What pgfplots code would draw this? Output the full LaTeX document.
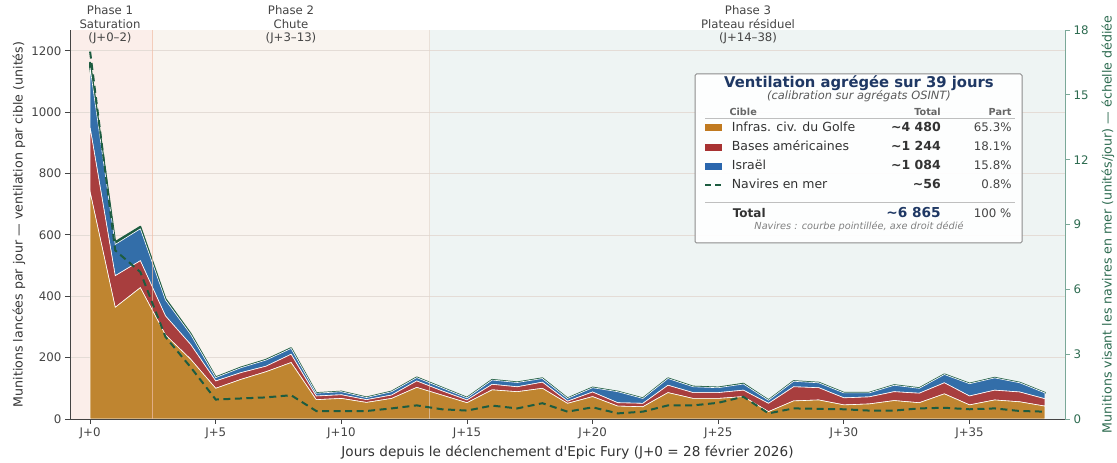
\documentclass[border=0pt]{standalone}
\usepackage{fontspec}
\setmainfont{DejaVu Sans}
\usepackage{pgfplots}
\pgfplotsset{compat=1.18}
\definecolor{cgulf}{HTML}{BF8530}
\definecolor{cbase}{HTML}{A83E3E}
\definecolor{cisr}{HTML}{336EA9}
\definecolor{cship}{HTML}{1D5C40}
\definecolor{sgulf}{HTML}{C17A20}
\definecolor{sbase}{HTML}{A83232}
\definecolor{sisr}{HTML}{2A66AD}
\definecolor{ph1}{HTML}{FBEEEA}
\definecolor{ph2}{HTML}{F9F4EF}
\definecolor{ph3}{HTML}{EEF4F3}
\definecolor{navy}{HTML}{1F3864}
\definecolor{txt}{HTML}{444444}
\definecolor{txt2}{HTML}{333333}
\definecolor{axc}{HTML}{444444}
\definecolor{rgreen}{HTML}{2D6B50}
\definecolor{rline}{HTML}{7AA898}
\definecolor{gridc}{HTML}{E4DCD6}
\definecolor{vl1}{HTML}{F0BFA8}
\definecolor{vl2}{HTML}{E6D3C6}
\pgfplotsset{common/.style={scale only axis, width=995pt, height=389pt, xmin=-0.8, xmax=38.8}}
\begin{document}
\begin{tikzpicture}
% background: phase shading and grid
\begin{axis}[common, ymin=0, ymax=1268, hide axis]
\fill[ph1] (axis cs:-0.8,0) rectangle (axis cs:2.5,1268);
\fill[ph2] (axis cs:2.5,0) rectangle (axis cs:13.5,1268);
\fill[ph3] (axis cs:13.5,0) rectangle (axis cs:38.8,1268);
\draw[gridc, line width=0.8pt] (axis cs:-0.8,200) -- (axis cs:38.8,200);
\draw[gridc, line width=0.8pt] (axis cs:-0.8,400) -- (axis cs:38.8,400);
\draw[gridc, line width=0.8pt] (axis cs:-0.8,600) -- (axis cs:38.8,600);
\draw[gridc, line width=0.8pt] (axis cs:-0.8,800) -- (axis cs:38.8,800);
\draw[gridc, line width=0.8pt] (axis cs:-0.8,1000) -- (axis cs:38.8,1000);
\draw[gridc, line width=0.8pt] (axis cs:-0.8,1200) -- (axis cs:38.8,1200);
\end{axis}
% stacked areas, left axis
\begin{axis}[
  common, ymin=0, ymax=1268,
  axis x line*=bottom, axis y line*=left,
  axis line style={color=axc, line width=0.9pt},
  xtick={0,5,...,35},
  xticklabels={J+0,J+5,J+10,J+15,J+20,J+25,J+30,J+35},
  ytick={0,200,...,1200},
  tick align=outside, major tick length=5pt,
  tick style={color=axc, line width=0.9pt},
  ticklabel style={font=\fontsize{11.8}{13}\selectfont, text=txt},
  yticklabel style={/pgf/number format/assume math mode=true, /pgf/number format/1000 sep={}},
  xlabel={Jours depuis le déclenchement d\textquotesingle Epic Fury (J+0 = 28 février 2026)},
  ylabel={Munitions lancées par jour — ventilation par cible (unités)},
  xlabel style={font=\fontsize{13.6}{15}\selectfont, text=txt2, at={(axis description cs:0.5,-0.0848)}, anchor=center},
  ylabel style={font=\fontsize{12.6}{14}\selectfont, text=txt2, at={(axis description cs:-0.0513,0.5)}, anchor=center},
  stack plots=y,
]
\addplot[fill=cgulf, draw=white, line width=0.6pt] coordinates {
(0,740) (1,364) (2,428) (3,274) (4,195) (5,100) (6,129) (7,154) (8,184) (9,63)
(10,67) (11,54) (12,67) (13,103) (14,78) (15,53) (16,95) (17,89) (18,100) (19,51)
(20,73) (21,42) (22,40) (23,86) (24,67) (25,67) (26,73) (27,24) (28,59) (29,62)
(30,46) (31,49) (32,60) (33,53) (34,82) (35,46) (36,62) (37,56) (38,42)} \closedcycle;
\addplot[fill=cbase, draw=white, line width=0.6pt] coordinates {
(0,210) (1,103) (2,88) (3,62) (4,48) (5,24) (6,22) (7,18) (8,27) (9,12)
(10,12) (11,9) (12,11) (13,21) (14,14) (15,9) (16,18) (17,16) (18,20) (19,7)
(20,15) (21,11) (22,11) (23,24) (24,19) (25,19) (26,21) (27,27) (28,46) (29,40)
(30,23) (31,23) (32,29) (33,31) (34,36) (35,29) (36,32) (37,32) (38,24)} \closedcycle;
\addplot[fill=cisr, draw=white, line width=0.6pt] coordinates {
(0,195) (1,102) (2,104) (3,52) (4,33) (5,11) (6,16) (7,20) (8,19) (9,9)
(10,10) (11,7) (12,11) (13,11) (14,10) (15,7) (16,14) (17,14) (18,12) (19,9)
(20,14) (21,36) (22,16) (23,22) (24,19) (25,16) (26,20) (27,10) (28,18) (29,16)
(30,16) (31,13) (32,21) (33,16) (34,27) (35,40) (36,40) (37,30) (38,19)} \closedcycle;
\addplot[fill=cship, draw=cship, line width=1.8pt, line join=round] coordinates {
(0,17) (1,7.8) (2,6.8) (3,3.8) (4,2.4) (5,0.9) (6,0.95) (7,1.0) (8,1.1) (9,0.37)
(10,0.37) (11,0.37) (12,0.49) (13,0.63) (14,0.45) (15,0.39) (16,0.62) (17,0.49) (18,0.73) (19,0.34)
(20,0.54) (21,0.26) (22,0.34) (23,0.63) (24,0.63) (25,0.75) (26,1.03) (27,0.26) (28,0.49) (29,0.47)
(30,0.45) (31,0.39) (32,0.39) (33,0.49) (34,0.52) (35,0.45) (36,0.49) (37,0.37) (38,0.34)} \closedcycle;
\end{axis}
% ships, right axis
\begin{axis}[
  common, ymin=0, ymax=18,
  axis x line=none, axis y line*=right,
  axis line style={color=rline, line width=0.9pt},
  ytick={0,3,...,18},
  tick align=outside, major tick length=5pt,
  tick style={color=rline, line width=0.9pt},
  yticklabel style={font=\fontsize{11.8}{13}\selectfont, text=rgreen, /pgf/number format/assume math mode=true},
  ylabel={Munitions visant les navires en mer (unités/jour) — échelle dédiée},
  ylabel style={font=\fontsize{12.6}{14}\selectfont, text=rgreen, at={(axis description cs:1.0432,0.5)}, anchor=center},
]
\draw[vl1, line width=0.9pt, opacity=0.7] (axis cs:2.5,0) -- (axis cs:2.5,18);
\draw[vl2, line width=0.9pt, opacity=0.6] (axis cs:13.5,0) -- (axis cs:13.5,18);
\addplot[cship, line width=2pt, dash pattern=on 7pt off 4.5pt] coordinates {
(0,17) (1,7.8) (2,6.8) (3,3.8) (4,2.4) (5,0.9) (6,0.95) (7,1.0) (8,1.1) (9,0.37)
(10,0.37) (11,0.37) (12,0.49) (13,0.63) (14,0.45) (15,0.39) (16,0.62) (17,0.49) (18,0.73) (19,0.34)
(20,0.54) (21,0.26) (22,0.34) (23,0.63) (24,0.63) (25,0.75) (26,1.03) (27,0.26) (28,0.49) (29,0.47)
(30,0.45) (31,0.39) (32,0.39) (33,0.49) (34,0.52) (35,0.45) (36,0.49) (37,0.37) (38,0.34)};
\end{axis}
% phase labels
\node[align=center, font=\fontsize{11.7}{13.6}\selectfont, text=txt] at (40pt,394pt) {Phase 1\\Saturation\\(J+0–2)};
\node[align=center, font=\fontsize{11.7}{13.6}\selectfont, text=txt] at (221pt,394pt) {Phase 2\\Chute\\(J+3–13)};
\node[align=center, font=\fontsize{11.7}{13.6}\selectfont, text=txt] at (678pt,394pt) {Phase 3\\Plateau résiduel\\(J+14–38)};
% summary box
\draw[draw=black!45, line width=1pt, fill=white, fill opacity=0.93, rounded corners=1.5pt] (625pt,176pt) rectangle (952pt,345pt);
\node[anchor=base, font=\bfseries\fontsize{14.8}{16}\selectfont, text=navy] at (789pt,331pt) {Ventilation agrégée sur 39 jours};
\node[anchor=base, font=\itshape\fontsize{11.4}{13}\selectfont, text=black!65] at (789pt,319.5pt) {(calibration sur agrégats OSINT)};
\node[anchor=base west, font=\bfseries\fontsize{9.7}{11}\selectfont, text=black!60] at (656pt,303pt) {Cible};
\node[anchor=base east, font=\bfseries\fontsize{9.7}{11}\selectfont, text=black!60] at (874.3pt,303pt) {Total};
\node[anchor=base east, font=\bfseries\fontsize{9.7}{11}\selectfont, text=black!60] at (945pt,303pt) {Part};
\draw[black!25, line width=1.1pt] (635pt,300.5pt) -- (945pt,300.5pt);
% rows
\fill[sgulf] (635pt,288pt) rectangle (651.7pt,294.7pt);
\node[anchor=base west, font=\fontsize{12.5}{14}\selectfont, text=txt2] at (658.3pt,287.3pt) {Infras. civ. du Golfe};
\node[anchor=base east, font=\bfseries\fontsize{12.5}{14}\selectfont, text=txt2] at (874.3pt,287.3pt) {\textasciitilde 4 480};
\node[anchor=base east, font=\fontsize{11.8}{14}\selectfont, text=txt] at (945pt,287.3pt) {65.3\%};
\fill[sbase] (635pt,268.3pt) rectangle (651.7pt,275pt);
\node[anchor=base west, font=\fontsize{12.5}{14}\selectfont, text=txt2] at (658.3pt,268pt) {Bases américaines};
\node[anchor=base east, font=\bfseries\fontsize{12.5}{14}\selectfont, text=txt2] at (874.3pt,268pt) {\textasciitilde 1 244};
\node[anchor=base east, font=\fontsize{11.8}{14}\selectfont, text=txt] at (945pt,268pt) {18.1\%};
\fill[sisr] (635pt,249pt) rectangle (651.7pt,255.7pt);
\node[anchor=base west, font=\fontsize{12.5}{14}\selectfont, text=txt2] at (658.3pt,249pt) {Israël};
\node[anchor=base east, font=\bfseries\fontsize{12.5}{14}\selectfont, text=txt2] at (874.3pt,249pt) {\textasciitilde 1 084};
\node[anchor=base east, font=\fontsize{11.8}{14}\selectfont, text=txt] at (945pt,249pt) {15.8\%};
\draw[cship, line width=2pt, dash pattern=on 6pt off 4pt] (635pt,234pt) -- (652pt,234pt);
\node[anchor=base west, font=\fontsize{12.5}{14}\selectfont, text=txt2] at (658.3pt,230pt) {Navires en mer};
\node[anchor=base east, font=\bfseries\fontsize{12.5}{14}\selectfont, text=txt2] at (874.3pt,230pt) {\textasciitilde 56};
\node[anchor=base east, font=\fontsize{11.8}{14}\selectfont, text=txt] at (945pt,230pt) {0.8\%};
\draw[black!25, line width=1.1pt] (635pt,216.3pt) -- (945pt,216.3pt);
\node[anchor=base west, font=\bfseries\fontsize{12}{14}\selectfont, text=txt2] at (659.3pt,201.3pt) {Total};
\node[anchor=base east, font=\bfseries\fontsize{13.7}{15}\selectfont, text=navy] at (874.3pt,201.3pt) {\textasciitilde 6 865};
\node[anchor=base east, font=\fontsize{11.8}{14}\selectfont, text=txt] at (945pt,201.3pt) {100 \%};
\node[anchor=base, font=\itshape\fontsize{9.75}{11}\selectfont, text=black!50] at (789pt,189pt) {Navires : courbe pointillée, axe droit dédié};
\pgfresetboundingbox
\path (-70pt,-44pt) rectangle (1047pt,419pt);
\end{tikzpicture}
\end{document}
